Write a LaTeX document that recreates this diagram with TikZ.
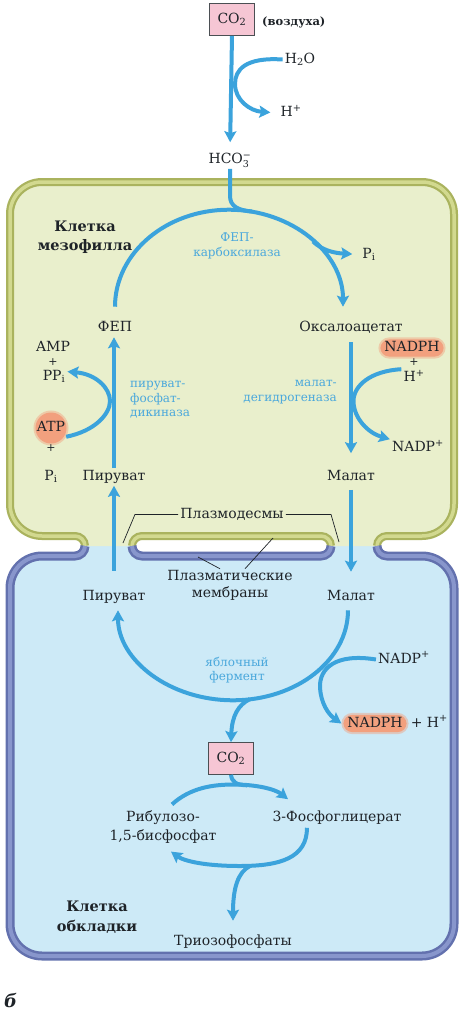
\documentclass[tikz,border=0pt]{standalone}
\usepackage{fontspec}
\setmainfont{DejaVu Serif}
\usepackage{tikz}
\usetikzlibrary{arrows.meta,positioning,calc}
\definecolor{flowblue}{HTML}{3BA3DC}
\definecolor{enzblue}{HTML}{4AA8DC}
\definecolor{ink}{HTML}{1E2328}
\definecolor{glowor}{HTML}{F2A07E}
\definecolor{pinkbox}{HTML}{F6C6D4}
\definecolor{mesofill}{HTML}{E9EFCC}
\definecolor{sheathfill}{HTML}{CDEAF7}
\definecolor{mesowallc}{HTML}{AAB35E}
\definecolor{mesowalllc}{HTML}{D2D98F}
\definecolor{sheathwallc}{HTML}{6371AE}
\definecolor{sheathwalllc}{HTML}{8896CC}
\tikzset{
  lbl/.style={font=\fontsize{14}{16}\selectfont,text=ink,inner sep=2pt,text height=10.2pt,text depth=3pt},
  txt/.style={font=\fontsize{14}{17}\selectfont,text=ink,inner sep=2pt,align=center},
  plus/.style={font=\fontsize{11}{12}\selectfont,text=ink,inner sep=0pt},
  enz/.style={font=\fontsize{12}{14.5}\selectfont,text=enzblue,inner sep=1pt},
  cellname/.style={font=\bfseries\fontsize{14.5}{19.5}\selectfont,text=ink,align=center},
  co2box/.style={draw=ink!80,line width=0.7pt,fill=pinkbox,minimum width=45pt,minimum height=32pt,inner sep=2pt,font=\fontsize{14}{16}\selectfont,text=ink},
  glow/.style={lbl,fill=glowor,draw=glowor,draw opacity=0.45,line width=4pt,rounded corners=9pt,inner xsep=4pt,inner ysep=2pt},
  glowc/.style={lbl,circle,fill=glowor,draw=glowor,draw opacity=0.45,line width=4pt,inner sep=0pt},
  flow/.style={draw=flowblue,line width=4pt,-{Stealth[length=11pt,width=12pt,inset=2pt]}},
  flowline/.style={draw=flowblue,line width=4pt},
  pointer/.style={draw=ink,line width=0.7pt},
  mesowall/.style={draw=mesowallc,line width=8pt},
  mesowalllt/.style={draw=mesowalllc,line width=3.5pt},
  sheathwall/.style={draw=sheathwallc,line width=9pt},
  sheathwalllt/.style={draw=sheathwalllc,line width=4pt},
}
\newcommand{\chemidx}[1]{\mbox{\fontsize{9.5}{10}\selectfont #1}}
\def\mesopath{(85,546) arc[start angle=0,end angle=-90,radius=10] -- (42,536) arc[start angle=90,end angle=180,radius=32] -- (10,214) arc[start angle=180,end angle=270,radius=32] -- (422,182) arc[start angle=270,end angle=360,radius=32] -- (454,504) arc[start angle=0,end angle=90,radius=32] -- (387,536) arc[start angle=270,end angle=180,radius=10]}
\def\sheathpath{(85,546) arc[start angle=0,end angle=90,radius=10] -- (42,556) arc[start angle=270,end angle=180,radius=32] -- (10,924) arc[start angle=180,end angle=90,radius=32] -- (422,956) arc[start angle=90,end angle=0,radius=32] -- (454,588) arc[start angle=0,end angle=-90,radius=32] -- (387,556) arc[start angle=90,end angle=180,radius=10]}
\def\slottop{(132,546) arc[start angle=180,end angle=270,radius=10] -- (321,536) arc[start angle=270,end angle=360,radius=10]}
\def\slotbot{(132,546) arc[start angle=180,end angle=90,radius=10] -- (321,556) arc[start angle=90,end angle=0,radius=10]}
\begin{document}
\begin{tikzpicture}[x=1pt,y=-1pt]
  \useasboundingbox (0,0) rectangle (464,1010);
  % cells
  \fill[sheathfill] \sheathpath -- cycle;
  \fill[mesofill] \mesopath -- cycle;
  \fill[white] (132,546) arc[start angle=180,end angle=270,radius=10] -- (321,536) arc[start angle=270,end angle=450,radius=10] -- (142,556) arc[start angle=90,end angle=180,radius=10] -- cycle;
  \draw[mesowall] \mesopath; \draw[mesowall] \slottop;
  \draw[mesowalllt] \mesopath; \draw[mesowalllt] \slottop;
  \draw[sheathwall] \sheathpath; \draw[sheathwall] \slotbot;
  \draw[sheathwalllt] \sheathpath; \draw[sheathwalllt] \slotbot;

  % air
  \node[co2box] (co2air) at (232,19.5) {CO\textsubscript{2}};
  \node[lbl,font=\bfseries\fontsize{11.5}{14}\selectfont,anchor=west] (air) at (260,22) {(воздуха)};
  \node[lbl] (h2o) at (300,59.5) {H\textsubscript{2}O};
  \node[lbl] (hpt) at (291,113) {H\textsuperscript{+}};
  \node[lbl] (hco3) at (230,160) {HCO$_{\chemidx{3}}^{\chemidx{−}}$};

  % mesophyll cell
  \node[cellname] (meso) at (85,237) {Клетка\\мезофилла};
  \node[enz,align=center] (pepc) at (237,246) {ФЕП-\\карбоксилаза};
  \node[lbl] (pi1) at (369,254.5) {P\textsubscript{i}};
  \node[lbl] (pep) at (115,327.5) {ФЕП};
  \node[lbl] (oxa) at (351,327.5) {Оксалоацетат};
  \node[lbl] (amp) at (53,348) {AMP};
  \node[plus] (pl1) at (53,362) {+};
  \node[lbl] (ppi) at (54,376.5) {PP\textsubscript{i}};
  \node[glowc] (atp) at (51,428) {ATP};
  \node[plus] (pl2) at (51,448) {+};
  \node[lbl] (pi2) at (51,476.5) {P\textsubscript{i}};
  \node[enz,anchor=west,align=left] (ppdk) at (129,400) {пируват-\\фосфат-\\дикиназа};
  \node[enz,anchor=east,align=right] (mdh) at (338,392) {малат-\\дегидрогеназа};
  \node[glow] (nadphA) at (412,348) {NADPH};
  \node[plus] (pl3) at (414,362) {+};
  \node[lbl] (hpA) at (414,378) {H\textsuperscript{+}};
  \node[lbl] (nadpA) at (418,448) {NADP\textsuperscript{+}};
  \node[lbl] (pyrA) at (114,477) {Пируват};
  \node[lbl] (malA) at (351,477) {Малат};

  % plasmodesmata
  \node[lbl] (pd) at (232,514.4) {Плазмодесмы};
  \node[txt] (pm) at (230,585) {Плазматические\\мембраны};
  \coordinate (memlow) at (198,557);
  \coordinate (memup) at (273,538);

  % bundle sheath cell
  \node[lbl] (pyrB) at (114,596.5) {Пируват};
  \node[lbl] (malB) at (351,596.5) {Малат};
  \node[enz,align=center] (me) at (237,670) {яблочный\\фермент};
  \node[lbl] (nadpB) at (404,659.5) {NADP\textsuperscript{+}};
  \node[glow] (nadphB) at (375,723.5) {NADPH};
  \node[lbl,right=0pt of nadphB] (hpB) {+ H\textsuperscript{+}};
  \node[co2box] (co2b) at (231,758.5) {CO\textsubscript{2}};
  \node[txt,font=\fontsize{14}{19}\selectfont] (rubp) at (163,827) {Рибулозо-\\1,5-бисфосфат};
  \node[lbl] (pga) at (337,818) {3-Фосфоглицерат};
  \node[lbl] (triose) at (233,941.5) {Триозофосфаты};
  \node[cellname] (bs) at (97,917) {Клетка\\обкладки};
  \node[font=\bfseries\itshape\fontsize{18}{18}\selectfont,text=ink,anchor=base west,inner sep=0pt] (fig) at (4,1007) {б};

  % connectors
  \draw[flow,shorten >=9pt] (co2air.south) -- (hco3.north);
  \draw[flow,shorten >=8pt] (h2o.west) .. controls (245,57) and (235,70) .. (235,84) .. controls (235,100) and (250,111) .. (hpt.west);
  \draw[flowline] (hco3.south) -- (230,196) .. controls (230,206) and (238,210.5) .. (252,211.5);
  \draw[flow] ($(pep.north)+(0,-12)$) arc[start angle=180,end angle=360,x radius=114,y radius=97];
  \draw[flow,shorten >=8pt] (313,241.5) .. controls (322,250) and (333,253) .. (pi1.west);
  \draw[flow,shorten >=1pt] (pyrA.north) -- (pyrA.north |- pep.south);
  \draw[flow,shorten <=6pt,shorten >=15pt] (oxa.south) -- (malA.north);
  \draw[flow] (atp.-30) .. controls (95,431) and (110,414) .. (110,401) .. controls (110,388) and (96,374) .. (ppi.20);
  \draw[flow] (hpA.north west) .. controls (370,371) and (353.5,386) .. (353.5,401) .. controls (353.5,418) and (368,433) .. (nadpA.north west);
  \draw[pointer] (pd.west) -- (135,514.4) -- (123,543);
  \draw[pointer] (pd.east) -- (331,514.4) -- (339,542);
  \draw[pointer] (memlow) -- ($(pm.north)+(-10,1)$);
  \draw[pointer] (memup) -- ($(pm.north)+(15,1)$);
  \draw[flow,shorten <=17pt] (pyrB.north) -- (pyrA.south);
  \draw[flow,shorten <=4pt,shorten >=16pt] (malA.south) -- (malB.north);
  \draw[flow] ($(malB.south)+(-3,5)$) arc[start angle=0,end angle=180,x radius=115,y radius=90];
  \draw[flow] (nadpB.west) .. controls (336,653) and (319,668) .. (320,688) .. controls (321,703) and (328,714) .. (nadphB.west);
  \draw[flow] (250,699) .. controls (238,705) and (232,716) .. (co2b.north);
  \draw[flowline] (co2b.south) .. controls (232,782) and (236,785) .. (247,785.3);
  \draw[flow] ($(rubp.north)+(9,-4)$) .. controls (190,788) and (212,784.5) .. (234,784.5) .. controls (256,784.5) and (275,789) .. ($(pga.north)+(-49,-10)$);
  \draw[flow] ($(pga.south)+(-30,1)$) .. controls (307,858) and (280,866) .. (240,866) .. controls (205,866) and (184,861) .. ($(rubp.south)+(8,6)$);
  \draw[flow,shorten >=12pt] (250,866) .. controls (238,872) and (233,888) .. (triose.north);
\end{tikzpicture}
\end{document}
